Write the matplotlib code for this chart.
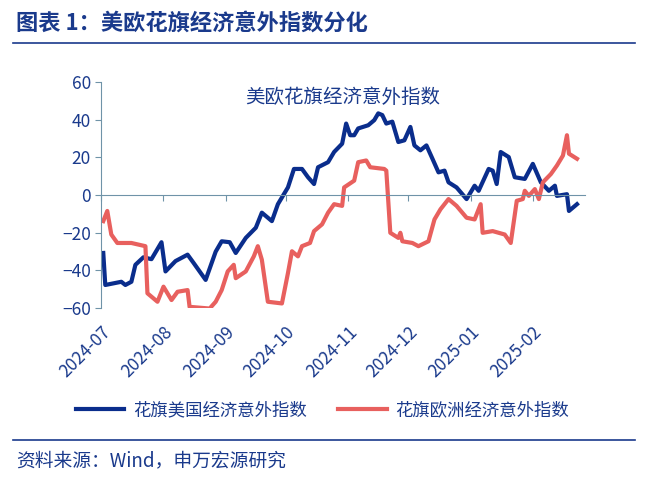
import matplotlib
matplotlib.use("Agg")
import matplotlib.pyplot as plt
import matplotlib.dates as mdates
import pandas as pd

plt.rcParams["font.family"] = ["Noto Sans CJK SC", "DejaVu Sans"]

us_dates = ["2024-07-02","2024-07-03","2024-07-11","2024-07-13","2024-07-16","2024-07-18","2024-07-22","2024-07-26",
            "2024-07-31","2024-08-02","2024-08-07","2024-08-13","2024-08-16","2024-08-22","2024-08-27","2024-08-30",
            "2024-09-03","2024-09-06","2024-09-11","2024-09-16","2024-09-19","2024-09-24","2024-09-27","2024-10-02",
            "2024-10-05","2024-10-09","2024-10-12","2024-10-15","2024-10-17","2024-10-22","2024-10-25","2024-10-29",
            "2024-10-31","2024-11-02","2024-11-04","2024-11-06","2024-11-11","2024-11-14","2024-11-16","2024-11-18",
            "2024-11-20","2024-11-23","2024-11-26","2024-11-29","2024-12-02","2024-12-04","2024-12-07","2024-12-10",
            "2024-12-13","2024-12-16","2024-12-19","2024-12-21","2024-12-25","2024-12-30","2025-01-03","2025-01-05",
            "2025-01-10","2025-01-12","2025-01-14","2025-01-16","2025-01-20","2025-01-23","2025-01-28","2025-02-01",
            "2025-02-05","2025-02-09","2025-02-12","2025-02-13","2025-02-18","2025-02-19","2025-02-23"]
us_values = [-30.7,-47.7,-46,-47.7,-46,-37,-33,-34,-25,-40.5,-35,-31.6,-36,-45,-30,-24.5,-25,-30.7,-22.7,-17.3,
             -9.3,-13.8,-4.8,4.1,13.9,13.9,9.5,5.9,14.8,17.5,22.9,27.3,38,31.8,31.8,35.4,37.1,39.8,43.4,42.5,
             38,39,28.2,29.1,36.2,26.4,23.8,26.4,19.3,12.1,13,6.8,4.1,-2.1,5,2.3,13.9,13,5.9,22.9,20.2,9.5,8.6,
             16.6,6.8,2.3,5,-0.4,0.5,-8.4,-4.8]

eu_dates = ["2024-07-02","2024-07-04","2024-07-06","2024-07-09","2024-07-16","2024-07-23","2024-07-24","2024-07-29",
            "2024-08-01","2024-08-05","2024-08-08","2024-08-13","2024-08-14","2024-08-24","2024-08-27","2024-08-30",
            "2024-09-02","2024-09-05","2024-09-06","2024-09-11","2024-09-15","2024-09-17","2024-09-19","2024-09-22",
            "2024-09-29","2024-10-02","2024-10-04","2024-10-07","2024-10-09","2024-10-13","2024-10-15","2024-10-19",
            "2024-10-22","2024-10-25","2024-10-29","2024-10-30","2024-11-04","2024-11-06","2024-11-10","2024-11-12",
            "2024-11-19","2024-11-20","2024-11-22","2024-11-26","2024-11-27","2024-11-28","2024-12-03","2024-12-06",
            "2024-12-11","2024-12-14","2024-12-17","2024-12-21","2024-12-25","2024-12-30","2025-01-03","2025-01-06",
            "2025-01-07","2025-01-12","2025-01-18","2025-01-21","2025-01-24","2025-01-27","2025-01-28","2025-01-30",
            "2025-02-02","2025-02-04","2025-02-06","2025-02-10","2025-02-13","2025-02-16","2025-02-18","2025-02-19",
            "2025-02-23"]
eu_values = [-13.8,-8.4,-20.9,-25.4,-25.4,-27.1,-52.1,-56.6,-48.6,-55.7,-51.3,-50.4,-59.3,-60.2,-56.6,-50.4,
             -40.5,-37,-44.1,-40.5,-32.5,-27.1,-34.3,-56.6,-57.5,-41.4,-29.8,-32.5,-27.1,-25.4,-19.1,-15.5,
             -9.3,-4.8,-5.7,4.1,7.7,17.5,18.4,14.8,13.9,13,-20,-22.7,-20,-24.5,-25.4,-27.1,-24.5,-12.9,-7.5,
             -2.1,-5.7,-12,-12.9,-4.8,-20,-19.1,-20.9,-25.4,-3,-2.1,2.3,-0.4,3.2,-2.1,6.8,11.2,15.7,21,31.8,22,19.3]

yticks = [-60, -40, -20, 0, 20, 40, 60]
xticks = ["2024-07-01","2024-08-01","2024-09-01","2024-10-01","2024-11-01","2024-12-01","2025-01-01","2025-02-01"]

navy = "#0a2d8c"
red = "#e8605e"
axis_col = "#6f93a8"
title_col = "#1a3a8c"

fig = plt.figure(figsize=(6.45, 4.83), dpi=100)
fig.text(0.025, 0.952, "图表 1：美欧花旗经济意外指数分化", fontsize=16, fontweight="bold", color=title_col, va="center")
fig.add_artist(plt.Line2D([0.02, 0.985], [0.91, 0.91], color=title_col, lw=1.2))
fig.add_artist(plt.Line2D([0.02, 0.985], [0.09, 0.09], color=title_col, lw=1.2))
fig.text(0.025, 0.045, "资料来源：Wind，申万宏源研究", fontsize=13.5, color=title_col, va="center")

ax = fig.add_axes([0.157, 0.362, 0.75, 0.468])
ax.plot(pd.to_datetime(us_dates), us_values, color=navy, lw=3, label="花旗美国经济意外指数", solid_joinstyle="round")
ax.plot(pd.to_datetime(eu_dates), eu_values, color=red, lw=3, label="花旗欧洲经济意外指数", solid_joinstyle="round")
ax.set_ylim(-60, 60)
ax.set_xlim(pd.Timestamp("2024-07-01"), pd.Timestamp("2025-02-27"))
ax.set_yticks(yticks)
ax.set_xticks(pd.to_datetime(xticks))
ax.xaxis.set_major_formatter(mdates.DateFormatter("%Y-%m"))
for s in ["top", "right"]:
    ax.spines[s].set_visible(False)
ax.spines["bottom"].set_position(("data", 0))
ax.spines["bottom"].set_color(axis_col)
ax.spines["left"].set_color(axis_col)
ax.tick_params(axis="y", colors=axis_col, labelcolor=title_col, labelsize=12.5, length=4)
ax.tick_params(axis="x", colors=axis_col, labelcolor=title_col, labelsize=12.5, length=4, pad=88)
for lab in ax.get_xticklabels():
    lab.set_rotation(45)
    lab.set_ha("right")
    lab.set_rotation_mode("anchor")
ax.text(0.5, 0.93, "美欧花旗经济意外指数", transform=ax.transAxes, ha="center", va="center", fontsize=14, color=title_col)
fig.legend(loc="center", bbox_to_anchor=(0.5, 0.15), ncol=2, frameon=False, fontsize=12.5,
           handlelength=2.8, handletextpad=0.5, columnspacing=1.8, labelcolor=title_col)
fig.savefig("out.png", dpi=100)
